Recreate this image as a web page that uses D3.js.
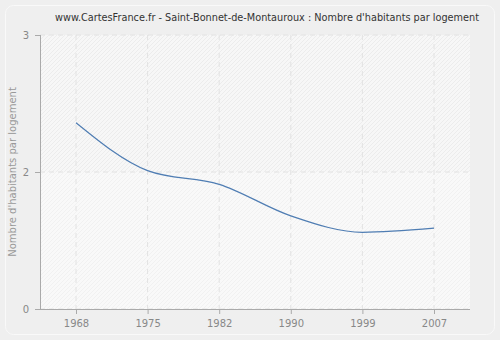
<!DOCTYPE html>
<html><head><meta charset="utf-8">
<script src="https://cdn.jsdelivr.net/npm/d3@7"></script>
<style>body{margin:0;background:#efefef;}svg{display:block;font-family:"DejaVu Sans",Verdana,sans-serif;}</style>
</head><body><svg id="c" width="500" height="340"></svg>
<script>
const years = ["1968","1975","1982","1990","1999","2007"];
const values = [2.36, 2.01, 1.91, 1.68, 1.56, 1.59];
const yTicks = [1, 2, 3];
const yTickLabels = ["0", "2", "3"];
const title = "www.CartesFrance.fr - Saint-Bonnet-de-Montauroux : Nombre d'habitants par logement";
const yTitle = "Nombre d'habitants par logement";

const svg = d3.select("#c");
const L = 40, R = 470, T = 35, B = 309;

const defs = svg.append("defs");
const pat = defs.append("pattern").attr("id","hatch").attr("patternUnits","userSpaceOnUse")
  .attr("width",4).attr("height",4);
pat.append("rect").attr("width",4).attr("height",4).attr("fill","#f7f7f7");
pat.append("path").attr("d","M-1,1 l2,-2 M0,4 l4,-4 M3,5 l2,-2").attr("stroke","#ececec").attr("stroke-width",1);
const pat2 = defs.append("pattern").attr("id","hatch2").attr("patternUnits","userSpaceOnUse")
  .attr("width",4).attr("height",4);
pat2.append("rect").attr("width",4).attr("height",4).attr("fill","#f9f9f9");
pat2.append("path").attr("d","M-1,1 l2,-2 M0,4 l4,-4 M3,5 l2,-2").attr("stroke","#f1f1f1").attr("stroke-width",1);

svg.append("rect").attr("x",5.5).attr("y",5.5).attr("width",489).attr("height",329).attr("rx",8)
  .attr("fill","#efefef").attr("stroke","#f9f9f9").attr("stroke-width",1);

const x = d3.scalePoint().domain(years).range([76, 434]);
const y = d3.scaleLinear().domain([1, 3]).range([B, T]);

svg.append("rect").attr("x",L).attr("y",T).attr("width",R-L).attr("height",y(2)-T).attr("fill","url(#hatch)");
svg.append("rect").attr("x",L).attr("y",y(2)).attr("width",R-L).attr("height",B-y(2)).attr("fill","url(#hatch2)");

// grid
svg.append("g").selectAll("line").data(years).join("line")
  .attr("x1",d=>x(d)).attr("x2",d=>x(d)).attr("y1",T).attr("y2",B)
  .attr("stroke","#e2e2e2").attr("stroke-dasharray","5,4");
svg.append("g").selectAll("line").data(yTicks).join("line")
  .attr("x1",L).attr("x2",R).attr("y1",d=>y(d)).attr("y2",d=>y(d))
  .attr("stroke","#e2e2e2").attr("stroke-dasharray","5,4");

// axes
const ya = svg.append("g").attr("transform",`translate(${L},0)`)
  .call(d3.axisLeft(y).tickValues(yTicks).tickFormat((d,i)=>yTickLabels[i]).tickSize(5).tickPadding(6));
const xa = svg.append("g").attr("transform",`translate(0,${B})`)
  .call(d3.axisBottom(x).tickSize(5).tickPadding(6));
xa.select(".domain").attr("d",`M${L},0.5H${R}`);
[ya,xa].forEach(a=>{
  a.select(".domain").attr("stroke","#aaaaaa");
  a.selectAll(".tick line").attr("stroke","#aaaaaa");
  a.selectAll("text").attr("fill","#888888").style("font-size","10px").style("font-family","'DejaVu Sans',Verdana,sans-serif");
});
ya.select(".domain").attr("d",`M0.5,${T}V${B}`);

// line
const line = d3.line().x((d,i)=>x(years[i])).y(d=>y(d)).curve(d3.curveMonotoneX);
svg.append("path").datum(values).attr("d",line).attr("fill","none")
  .attr("stroke","#4f7db3").attr("stroke-width",1.2);

svg.append("text").attr("x",267).attr("y",21).attr("text-anchor","middle")
  .attr("fill","#333").style("font-size","10px")
  .attr("textLength",424).attr("lengthAdjust","spacingAndGlyphs").text(title);
svg.append("text").attr("transform",`translate(16,${(T+B)/2}) rotate(-90)`).attr("text-anchor","middle")
  .attr("fill","#999").style("font-size","10px").text(yTitle);
</script></body></html>
